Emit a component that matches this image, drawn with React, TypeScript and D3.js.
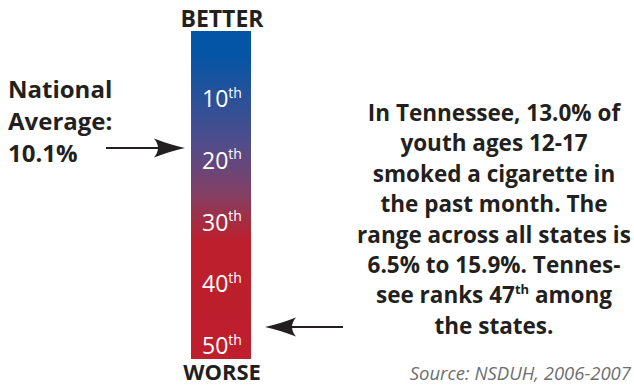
import React from "react";
import * as d3 from "d3";

// ---- data ----
const rankTicks = [10, 20, 30, 40, 50];
const stateName = "Tennessee";
const stateValue = 13.0;
const stateRank = 47;
const nationalAverage = 10.1;
const nationalRankEquivalent = 18;
const rangeMin = 6.5;
const rangeMax = 15.9;
const sourceLabel = "Source: NSDUH, 2006-2007";
const topLabel = "BETTER";
const bottomLabel = "WORSE";

const W = 634;
const H = 386;
const INK = "#231f20";
const BOLD = "'Open Sans', 'Noto Sans', sans-serif";

const barX = 191;
const barW = 60;

// rank -> y scale
const yRank = d3.scaleLinear().domain([10, 50]).range([98.5, 345.5]);
const barTop = 31;
const barBottom = 359;

function arrowHead(tipX: number, y: number, dir: number) {
  const L = 31;
  const hw = 9.5;
  const p = d3.path();
  p.moveTo(tipX, y);
  p.quadraticCurveTo(tipX - dir * 14, y - 3, tipX - dir * L, y - hw);
  p.quadraticCurveTo(tipX - dir * 23, y, tipX - dir * L, y + hw);
  p.quadraticCurveTo(tipX - dir * 14, y + 3, tipX, y);
  p.closePath();
  return p.toString();
}

export default function App() {
  const natY = yRank(nationalRankEquivalent);
  const stY = yRank(stateRank);
  const cx = 494;
  const lineY0 = 121;
  const lh = 30.4;
  const rightLines: React.ReactNode[] = [
    <>{`In ${stateName}, ${stateValue.toFixed(1)}% of`}</>,
    <>youth ages 12-17</>,
    <>smoked a cigarette in</>,
    <>the past month. The</>,
    <>range across all states is</>,
    <>{`${rangeMin.toFixed(1)}% to ${rangeMax.toFixed(1)}%. Tennes-`}</>,
    <>
      {`see ranks ${stateRank}`}
      <tspan fontSize={13} dy={-9}>th</tspan>
      <tspan dy={9}> among</tspan>
    </>,
    <>the states.</>,
  ];
  const gradStops = [
    { o: 0, c: "#0455a6" },
    { o: 0.07, c: "#0455a6" },
    { o: 0.34, c: "#4f4d8c" },
    { o: 0.5, c: "#843f63" },
    { o: 0.64, c: "#bd1f2c" },
    { o: 1, c: "#be1e2d" },
  ];
  return (
    <svg
      width={W}
      height={H}
      style={{ position: "absolute", left: 0, top: 0, background: "#fff" }}
    >
      <defs>
        <linearGradient id="rankGrad" x1="0" y1="0" x2="0" y2="1">
          {gradStops.map((s, i) => (
            <stop key={i} offset={s.o} stopColor={s.c} />
          ))}
        </linearGradient>
      </defs>
      <rect x={barX} y={barTop} width={barW} height={barBottom - barTop} fill="url(#rankGrad)" />
      <text x={barX + barW / 2 + 1} y={27} textAnchor="middle" fontFamily={BOLD} fontWeight={700} fontSize={23} fill={INK}>
        {topLabel}
      </text>
      <text x={barX + barW / 2 + 1} y={379.5} textAnchor="middle" fontFamily={BOLD} fontWeight={700} fontSize={22} fill={INK}>
        {bottomLabel}
      </text>
      {rankTicks.map((r) => (
        <text
          key={r}
          x={barX + barW / 2 + 1}
          y={yRank(r) + 8.5}
          textAnchor="middle"
          fontFamily={BOLD}
          fontWeight={400}
          fontSize={23}
          fill="#fff"
        >
          {r}
          <tspan fontSize={14} dy={-9.5}>th</tspan>
        </text>
      ))}
      {/* national average */}
      <g fontFamily={BOLD} fontWeight={700} fontSize={24} fill={INK}>
        <text x={8} y={98}>National</text>
        <text x={8} y={130}>Average:</text>
        <text x={8} y={162}>{`${nationalAverage}%`}</text>
      </g>
      <line x1={106} x2={165} y1={natY} y2={natY} stroke={INK} strokeWidth={2} />
      <path d={arrowHead(185, natY, 1)} fill={INK} />
      {/* state arrow */}
      <line x1={343} x2={285} y1={stY} y2={stY} stroke={INK} strokeWidth={2} />
      <path d={arrowHead(265, stY, -1)} fill={INK} />
      <g fontFamily={BOLD} fontWeight={700} fontSize={22.5} fill={INK} textAnchor="middle">
        {rightLines.map((l, i) => (
          <text key={i} x={cx} y={lineY0 + i * lh}>
            {l}
          </text>
        ))}
      </g>
      <text x={631} y={380} textAnchor="end" fontFamily={BOLD} fontStyle="italic" fontSize={18.5} fill="#6d6e71">
        {sourceLabel}
      </text>
    </svg>
  );
}
